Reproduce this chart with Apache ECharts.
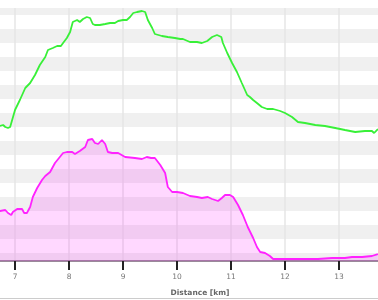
<!DOCTYPE html>
<html>
<head>
<meta charset="utf-8">
<script src="https://cdn.jsdelivr.net/npm/echarts@6/dist/echarts.min.js"></script>
<style>html,body{margin:0;padding:0;background:#fff}#c{width:378px;height:300px}</style>
</head>
<body>
<div id="c"></div>
<script>
// Distance axis (km)
var kmTicks = [7, 8, 9, 10, 11, 12, 13];
var kmMin = 6.722, kmMax = 13.722;

// Green profile: [km, value]
var greenKm = [6.72,6.78,6.82,6.87,6.91,7.00,7.09,7.19,7.28,7.37,7.46,7.56,7.61,7.70,7.78,7.85,7.89,7.96,8.02,8.07,8.15,8.20,8.26,8.33,8.39,8.44,8.48,8.57,8.67,8.76,8.85,8.91,9.00,9.07,9.13,9.19,9.26,9.28,9.35,9.41,9.46,9.54,9.59,9.72,9.83,9.96,10.06,10.11,10.24,10.37,10.39,10.46,10.56,10.65,10.74,10.82,10.85,10.93,11.02,11.11,11.20,11.30,11.35,11.41,11.48,11.50,11.57,11.67,11.78,11.91,12.00,12.13,12.24,12.37,12.56,12.74,12.93,13.11,13.30,13.48,13.61,13.65,13.72];
var greenVal = [135,136,134,133,134,151,161,173,178,186,196,204,211,213,215,215,218,223,229,239,241,239,242,244,243,237,236,236,237,238,238,240,241,241,244,248,249,247,250,249,241,233,227,225,224,223,222,222,219,219,220,218,220,224,226,224,218,208,198,189,178,166,164,161,158,156,154,152,152,150,148,144,139,138,136,135,133,131,129,130,130,128,132];

// Magenta profile: [km, value]
var pinkKm = [6.72,6.82,6.87,6.93,6.96,7.04,7.13,7.17,7.22,7.28,7.33,7.41,7.50,7.56,7.65,7.74,7.80,7.89,7.96,8.06,8.11,8.20,8.30,8.35,8.43,8.48,8.54,8.61,8.67,8.72,8.80,8.91,9.04,9.22,9.35,9.44,9.46,9.52,9.59,9.69,9.78,9.83,9.91,10.00,10.11,10.24,10.37,10.46,10.57,10.65,10.67,10.76,10.83,10.89,10.98,11.04,11.13,11.22,11.31,11.41,11.48,11.54,11.63,11.72,11.78,12.00,12.24,12.43,12.61,12.87,13.11,13.24,13.43,13.61,13.72];
var pinkVal = [50,51,48,46,49,52,52,48,48,54,64,73,81,85,89,98,102,108,109,109,107,110,114,121,122,118,117,121,117,109,108,108,104,103,102,104,106,103,103,96,88,74,69,69,68,65,64,63,64,62,60,60,63,66,66,64,56,46,34,23,14,9,8,5,2,2,2,2,2,3,3,4,4,5,7];

// Background band axis (band = 10 units)
var bandMin = -80 / 14, bandMax = 175, bandCount = 18;

function zip(a, b) { return a.map(function (v, i) { return [v, b[i]]; }); }

var chart = echarts.init(document.getElementById('c'), null, {renderer: 'canvas'});
chart.setOption({
  animation: false,
  grid: {left: 0, right: 0, top: 8, bottom: 39, containLabel: false, outerBoundsMode: 'none'},
  xAxis: {
    type: 'value', min: kmMin, max: kmMax, splitNumber: 7,
    axisLine: {show: true, onZero: false, lineStyle: {color: '#9a8a9a', width: 2}},
    axisTick: {show: true, inside: false, length: 9, customValues: kmTicks, lineStyle: {color: '#222', width: 2}},
    axisLabel: {showMinLabel: false, showMaxLabel: false, margin: 12, color: '#777', fontSize: 7.5, fontFamily: 'DejaVu Sans'},
    splitLine: {show: true, lineStyle: {color: '#e6e6e6', width: 1.5}},
    name: 'Distance [km]', nameLocation: 'middle', nameGap: 28,
    nameTextStyle: {color: '#666', fontWeight: 'bold', fontSize: 7.5, fontFamily: 'DejaVu Sans', padding: [0, 0, 0, 22]}
  },
  yAxis: [
    {type: 'value', min: 0, max: 253, show: false, splitLine: {show: false}},
    {type: 'value', min: bandMin, max: bandMax, splitNumber: bandCount, show: true,
      axisLine: {show: false}, axisTick: {show: false}, axisLabel: {show: false},
      splitLine: {show: false},
      splitArea: {show: true, areaStyle: {color: ['#f0f0f0', '#ffffff']}}}
  ],
  series: [
    {type: 'line', yAxisIndex: 0, data: zip(pinkKm, pinkVal), showSymbol: false, symbol: 'none',
      lineStyle: {color: '#ff22ff', width: 1.8}, areaStyle: {color: 'rgba(255,0,255,0.22)', origin: 'start'}, z: 3},
    {type: 'line', yAxisIndex: 0, data: zip(greenKm, greenVal), showSymbol: false, symbol: 'none',
      lineStyle: {color: '#38f038', width: 1.8}, z: 4}
  ],
  graphic: [{type: 'line', shape: {x1: 0, y1: 298.5, x2: 378, y2: 298.5}, style: {stroke: '#cccccc', lineWidth: 1}}]
});
</script>
</body>
</html>
